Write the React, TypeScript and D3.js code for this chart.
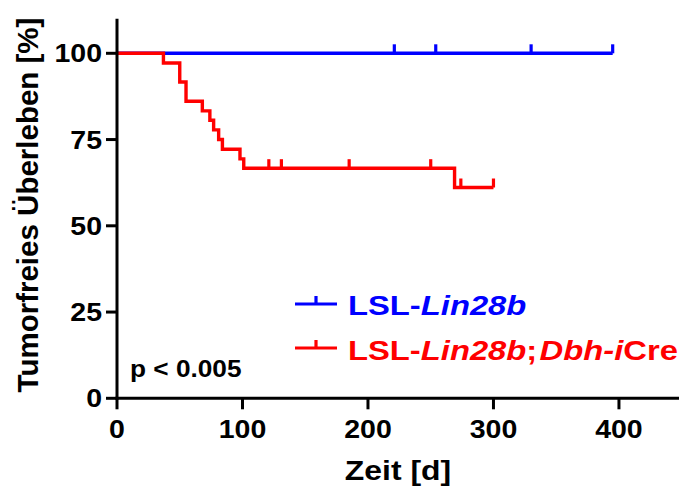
import React from 'react';
import * as d3 from 'd3';

// Kaplan-Meier curves, values
const blueTimes = [0, 395];
const blueSurv = [100, 100];
const blueCensor = [221, 254, 330, 395];

const redTimes = [0, 37, 50, 55, 68, 74, 77, 81, 84, 98, 101, 269, 300];
const redSurv = [100, 97.2, 91.7, 86.1, 83.3, 80.6, 77.8, 75.0, 72.2, 69.4, 66.7, 61.1, 61.1];
const redCensor = [121, 131, 185, 250, 274, 300];

const xTicks = [0, 100, 200, 300, 400];
const yTicks = [0, 25, 50, 75, 100];

const BLUE = '#0000ff';
const RED = '#ff0000';
const FONT = '"Liberation Sans", Arial, sans-serif';

const W = 679;
const H = 488;

const x = d3.scaleLinear().domain([0, 450]).range([117, 681.7]);
const y = d3.scaleLinear().domain([0, 110]).range([398.3, 18.8]);

const survAt = (times: number[], surv: number[], t: number) => {
  let v = surv[0];
  times.forEach((tt, i) => {
    if (tt <= t) v = surv[i];
  });
  return v;
};

const stepLine = d3
  .line<[number, number]>()
  .x((d) => x(d[0]))
  .y((d) => y(d[1]))
  .curve(d3.curveStepAfter);

const Curve = ({ times, surv, censor, color }: any) => {
  const pts: [number, number][] = times.map((t: number, i: number) => [t, surv[i]]);
  return (
    <g>
      <path d={stepLine(pts) || ''} fill="none" stroke={color} strokeWidth={3.4} />
      {censor.map((t: number) => {
        const v = survAt(times, surv, t);
        return (
          <line
            key={t}
            x1={x(t)}
            x2={x(t)}
            y1={y(v)}
            y2={y(v) - 9}
            stroke={color}
            strokeWidth={3.2}
          />
        );
      })}
    </g>
  );
};

// horizontal text in the reference is a little stretched sideways
const SText = ({ x0, y0, size, anchor = 'start', fill = '#000', rotate = 0, sx = 1.14, children }: any) => (
  <text
    transform={`translate(${x0},${y0}) scale(${sx},1)${rotate ? ` rotate(${rotate})` : ''}`}
    fontFamily={FONT}
    fontWeight="bold"
    fontSize={size}
    textAnchor={anchor}
    fill={fill}
  >
    {children}
  </text>
);

export default function App() {
  const y0 = y(0);
  const x0 = x(0);
  return (
    <svg width={W} height={H} style={{ position: 'absolute', left: 0, top: 0, background: '#fff' }}>
      <rect width={W} height={H} fill="#fff" />

      {/* curves */}
      <Curve times={blueTimes} surv={blueSurv} censor={blueCensor} color={BLUE} />
      <Curve times={redTimes} surv={redSurv} censor={redCensor} color={RED} />

      {/* axes */}
      <line x1={x0} x2={x0} y1={y.range()[1]} y2={y0 + 1.5} stroke="#000" strokeWidth={3} />
      <line x1={x0 - 1.5} x2={W + 5} y1={y0} y2={y0} stroke="#000" strokeWidth={3} />
      {yTicks.map((t) => (
        <g key={'y' + t}>
          <line x1={x0 - 11} x2={x0} y1={y(t)} y2={y(t)} stroke="#000" strokeWidth={3} />
          <SText x0={102} y0={y(t) + 9} size={25} anchor="end">
            {t}
          </SText>
        </g>
      ))}
      {xTicks.map((t) => (
        <g key={'x' + t}>
          <line x1={x(t)} x2={x(t)} y1={y0} y2={y0 + 11} stroke="#000" strokeWidth={3} />
          <SText x0={x(t)} y0={438} size={25} anchor="middle">
            {t}
          </SText>
        </g>
      ))}

      {/* axis titles */}
      <SText x0={398} y0={480} size={28} anchor="middle">
        Zeit [d]
      </SText>
      <SText x0={37.5} y0={205} size={29.5} anchor="middle" rotate={-90} sx={1}>
        Tumorfreies Überleben [%]
      </SText>

      {/* p value */}
      <SText x0={130} y0={377} size={23}>
        p &lt; 0.005
      </SText>

      {/* legend */}
      <g>
        <line x1={295} x2={337} y1={304} y2={304} stroke={BLUE} strokeWidth={3.2} />
        <line x1={316} x2={316} y1={304} y2={296} stroke={BLUE} strokeWidth={3.2} />
        <SText x0={348} y0={315} size={28} fill={BLUE} sx={1.17}>
          LSL-<tspan fontStyle="italic">Lin28b</tspan>
        </SText>
        <line x1={295} x2={337} y1={348} y2={348} stroke={RED} strokeWidth={3.2} />
        <line x1={316} x2={316} y1={348} y2={340} stroke={RED} strokeWidth={3.2} />
        <SText x0={348} y0={360} size={28} fill={RED} sx={1.17}>
          LSL-<tspan fontStyle="italic">Lin28b</tspan>;
          <tspan fontStyle="italic" dx={2}>
            Dbh-i
          </tspan>
          Cre
        </SText>
      </g>
    </svg>
  );
}
